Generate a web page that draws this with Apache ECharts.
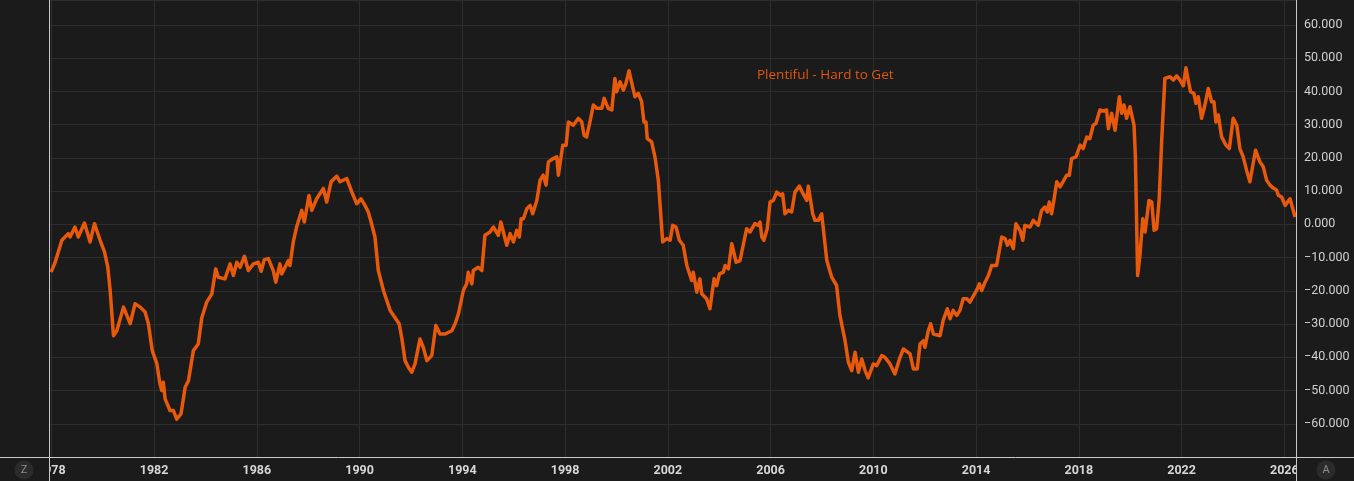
<!DOCTYPE html>
<html>
<head>
<meta charset="utf-8">
<title>Plentiful - Hard to Get</title>
<script src="https://cdn.jsdelivr.net/npm/echarts@6/dist/echarts.min.js"></script>
<style>
  html, body { margin: 0; padding: 0; background: #1b1b1b; }
  #chart { width: 1354px; height: 481px; }
</style>
</head>
<body>
<div id="chart"></div>
<script>
// Plentiful minus Hard to Get (decimal year, value)
const years = [
  1977.99, 1978.15, 1978.41, 1978.66, 1978.73, 1978.92, 1979.05, 1979.29, 1979.51, 1979.68,
  1979.90, 1980.07, 1980.20, 1980.29, 1980.42, 1980.55, 1980.81, 1981.07, 1981.26, 1981.46,
  1981.65, 1981.78, 1981.93, 1982.11, 1982.23, 1982.30, 1982.36, 1982.43, 1982.62, 1982.75,
  1982.88, 1983.05, 1983.21, 1983.34, 1983.53, 1983.72, 1983.86, 1984.05, 1984.25, 1984.40,
  1984.50, 1984.76, 1984.96, 1985.09, 1985.22, 1985.35, 1985.52, 1985.67, 1985.87, 1986.06,
  1986.17, 1986.29, 1986.45, 1986.64, 1986.74, 1986.90, 1986.97, 1987.23, 1987.29, 1987.42,
  1987.55, 1987.75, 1987.85, 1988.03, 1988.14, 1988.33, 1988.59, 1988.72, 1988.89, 1989.11,
  1989.24, 1989.50, 1989.70, 1989.89, 1990.06, 1990.21, 1990.34, 1990.45, 1990.60, 1990.73,
  1990.93, 1991.19, 1991.54, 1991.64, 1991.77, 1991.90, 1992.03, 1992.16, 1992.35, 1992.48,
  1992.62, 1992.81, 1992.97, 1993.13, 1993.33, 1993.59, 1993.72, 1993.85, 1994.04, 1994.17,
  1994.23, 1994.37, 1994.43, 1994.62, 1994.76, 1994.88, 1995.08, 1995.21, 1995.40, 1995.50,
  1995.73, 1995.86, 1995.99, 1996.12, 1996.22, 1996.29, 1996.38, 1996.51, 1996.64, 1996.74,
  1996.90, 1997.03, 1997.15, 1997.26, 1997.35, 1997.54, 1997.68, 1997.74, 1997.91, 1998.04,
  1998.13, 1998.32, 1998.52, 1998.65, 1998.74, 1998.84, 1998.97, 1999.10, 1999.23, 1999.43,
  1999.52, 1999.68, 1999.82, 1999.94, 2000.01, 2000.14, 2000.27, 2000.37, 2000.49, 2000.60,
  2000.72, 2000.85, 2000.98, 2001.07, 2001.15, 2001.20, 2001.37, 2001.50, 2001.63, 2001.80,
  2001.96, 2002.09, 2002.19, 2002.32, 2002.45, 2002.60, 2002.74, 2002.93, 2002.99, 2003.13,
  2003.25, 2003.32, 2003.51, 2003.64, 2003.80, 2003.90, 2004.01, 2004.16, 2004.23, 2004.36,
  2004.49, 2004.66, 2004.81, 2005.07, 2005.20, 2005.39, 2005.52, 2005.59, 2005.66, 2005.74,
  2005.87, 2005.98, 2006.11, 2006.24, 2006.39, 2006.47, 2006.56, 2006.69, 2006.82, 2006.95,
  2007.12, 2007.30, 2007.41, 2007.47, 2007.64, 2007.73, 2007.86, 2007.99, 2008.19, 2008.38,
  2008.57, 2008.70, 2008.90, 2009.03, 2009.16, 2009.29, 2009.42, 2009.55, 2009.68, 2009.80,
  2010.00, 2010.13, 2010.33, 2010.45, 2010.65, 2010.84, 2011.04, 2011.17, 2011.43, 2011.56,
  2011.71, 2011.82, 2011.95, 2012.01, 2012.14, 2012.23, 2012.34, 2012.60, 2012.72, 2012.88,
  2012.99, 2013.11, 2013.25, 2013.37, 2013.50, 2013.64, 2013.76, 2014.02, 2014.13, 2014.22,
  2014.35, 2014.48, 2014.61, 2014.80, 2015.00, 2015.13, 2015.22, 2015.32, 2015.45, 2015.55,
  2015.71, 2015.82, 2015.90, 2016.10, 2016.23, 2016.42, 2016.55, 2016.68, 2016.77, 2016.85,
  2016.94, 2017.03, 2017.14, 2017.27, 2017.42, 2017.53, 2017.63, 2017.72, 2017.89, 2018.05,
  2018.17, 2018.31, 2018.43, 2018.56, 2018.67, 2018.82, 2018.95, 2019.08, 2019.15, 2019.28,
  2019.41, 2019.58, 2019.67, 2019.76, 2019.86, 2019.99, 2020.15, 2020.20, 2020.25, 2020.29,
  2020.38, 2020.49, 2020.58, 2020.73, 2020.84, 2020.93, 2021.03, 2021.13, 2021.23, 2021.35,
  2021.55, 2021.68, 2021.81, 2021.94, 2022.07, 2022.17, 2022.26, 2022.35, 2022.48, 2022.56,
  2022.65, 2022.78, 2022.91, 2023.04, 2023.17, 2023.26, 2023.34, 2023.43, 2023.56, 2023.73,
  2023.86, 2024.01, 2024.15, 2024.27, 2024.40, 2024.53, 2024.66, 2024.88, 2025.05, 2025.18,
  2025.31, 2025.44, 2025.57, 2025.70, 2025.77, 2025.90, 2026.03, 2026.22, 2026.42
];
const values = [
  -14.4, -11.4, -4.8, -2.8, -3.8, -0.8, -3.8, 0.4, -5.3, 0.2,
  -4.8, -8.3, -12.9, -19.9, -33.5, -32.0, -24.9, -29.9, -23.9, -24.9,
  -26.4, -29.9, -38.0, -42.0, -48.0, -50.0, -47.5, -52.5, -56.0, -56.0,
  -58.6, -57.0, -49.0, -47.0, -38.0, -36.0, -28.0, -23.4, -20.9, -13.4,
  -15.9, -16.4, -11.9, -15.4, -11.4, -12.9, -9.6, -13.9, -11.9, -11.4,
  -14.1, -10.6, -10.3, -13.9, -17.4, -11.9, -14.9, -10.9, -12.4, -5.3,
  -0.8, 4.2, 0.7, 8.7, 4.2, 7.7, 10.8, 6.7, 12.8, 14.5,
  12.8, 13.8, 9.7, 6.2, 7.7, 5.7, 3.7, 0.7, -3.8, -13.9,
  -19.9, -25.9, -29.9, -34.0, -41.0, -43.0, -44.5, -42.0, -34.5, -37.0,
  -41.0, -39.5, -30.4, -33.0, -33.0, -32.0, -29.9, -26.9, -19.9, -17.9,
  -14.4, -17.9, -13.9, -12.9, -13.9, -3.3, -2.3, -0.8, -3.3, 0.7,
  -6.3, -2.8, -5.3, -1.8, -3.8, 1.7, 1.7, 4.7, 5.7, 3.2,
  7.2, 13.3, 14.8, 11.8, 18.8, 19.8, 20.3, 14.8, 23.8, 23.8,
  30.8, 29.8, 31.9, 30.8, 26.8, 26.3, 30.8, 35.9, 34.9, 34.9,
  37.9, 34.9, 34.4, 43.9, 39.9, 42.9, 40.4, 42.4, 46.2, 42.4,
  38.4, 39.4, 36.9, 30.8, 30.8, 25.8, 24.8, 20.3, 13.3, -5.3,
  -4.3, -4.8, -0.3, -0.8, -4.8, -6.3, -12.4, -16.9, -14.4, -20.4,
  -16.4, -20.9, -22.4, -25.4, -16.4, -18.4, -14.9, -14.4, -12.4, -13.4,
  -5.8, -11.4, -10.9, -1.3, -2.3, 0.2, -0.3, 0.7, -3.8, -4.8,
  -1.3, 6.7, 7.2, 9.7, 8.7, 9.2, 3.2, 4.2, 3.7, 9.7,
  11.5, 8.7, 7.2, 11.5, 3.2, 1.2, 1.2, 3.2, -10.9, -15.9,
  -18.4, -27.4, -35.0, -41.5, -44.0, -38.5, -44.5, -40.5, -44.0, -46.2,
  -42.0, -42.5, -39.5, -40.0, -42.0, -45.0, -40.0, -37.5, -39.0, -43.5,
  -43.5, -36.0, -35.0, -37.0, -32.0, -29.9, -33.0, -33.5, -28.9, -25.4,
  -28.4, -25.9, -27.4, -25.9, -22.4, -22.4, -23.4, -19.9, -17.9, -19.9,
  -17.4, -15.4, -12.4, -12.4, -3.8, -4.3, -6.3, -4.8, -7.3, 0.2,
  -1.8, -4.8, -0.3, -0.8, 1.2, -0.3, 4.2, 5.2, 3.7, 6.7,
  3.2, 7.2, 12.8, 11.3, 13.3, 14.8, 14.8, 19.8, 20.3, 23.8,
  22.8, 26.3, 25.8, 29.8, 30.4, 34.4, 34.1, 34.4, 28.8, 33.4,
  28.3, 38.4, 33.4, 35.9, 31.9, 35.4, 29.8, 20.8, 0.7, -15.4,
  -9.3, 1.7, -2.3, 7.2, 6.7, -1.8, -1.3, 7.7, 25.8, 43.9,
  44.4, 43.4, 44.7, 43.4, 41.7, 47.1, 43.4, 39.9, 39.4, 36.4,
  38.4, 31.9, 35.9, 40.9, 36.9, 36.9, 30.8, 32.9, 26.3, 23.8,
  22.8, 31.9, 29.8, 22.8, 20.3, 16.3, 12.8, 22.3, 18.8, 17.3,
  13.3, 11.8, 10.9, 10.3, 8.7, 8.2, 5.7, 7.7, 2.2
];
const yearTicks = [1978, 1982, 1986, 1990, 1994, 1998, 2002, 2006, 2010, 2014, 2018, 2022, 2026];
const seriesName = 'Plentiful - Hard to Get';

const BG = '#1b1b1b';
const FRAME = '#c9c9c9';
const GRID = '#2e2e2e';
const ORANGE = '#e8590c';

const chart = echarts.init(document.getElementById('chart'), null, { renderer: 'canvas' });
const points = years.map((y, i) => [y, values[i]]);

chart.setOption({
    backgroundColor: BG,
    animation: false,
    title: {
        text: seriesName, left: 752, top: 63,
        textStyle: { color: '#e0560f', fontSize: 13.5, fontWeight: 'normal', fontFamily: '"Open Sans", sans-serif' }
    },
    grid: { left: 49, right: 58, top: 0, bottom: 24, containLabel: false },
    xAxis: {
        type: 'value', min: 1977.91, max: 2026.455,
        axisLine: { show: false },
        axisTick: { show: false, customValues: yearTicks },
        splitLine: { show: true, lineStyle: { color: GRID, width: 1 } },
        axisLabel: {
            customValues: yearTicks, color: '#d6d6d6', fontSize: 12.5, fontWeight: 'bold',
            fontFamily: 'Roboto, sans-serif', margin: 7,
            formatter: v => String(Math.round(v))
        }
    },
    yAxis: {
        type: 'value', position: 'right', min: -70, max: 67.5, interval: 10,
        axisLine: { show: false },
        axisTick: { show: false },
        splitLine: { show: true, lineStyle: { color: GRID, width: 1 } },
        axisLabel: {
            color: '#d0d0d0', fontSize: 12.5, margin: 8, fontFamily: 'Roboto, sans-serif',
            showMinLabel: false, showMaxLabel: false,
            formatter: v => (v < -60 || v > 60) ? '' : v.toFixed(3).replace('-', '\u2212')
        }
    },
    series: [{
        name: seriesName, type: 'line', data: points,
        showSymbol: false, smooth: false,
        lineStyle: { color: ORANGE, width: 3.5, join: 'round' },
        z: 5
    }],
    graphic: [
        // panels that hide the cut-off ends of the date scale
        { type: 'rect', z: 100, shape: { x: 0, y: 458, width: 49, height: 23 }, style: { fill: BG } },
        { type: 'rect', z: 100, shape: { x: 1297, y: 458, width: 57, height: 23 }, style: { fill: BG } },
        // frame lines
        { type: 'line', z: 101, shape: { x1: 0, y1: 457.5, x2: 1354, y2: 457.5 }, style: { stroke: FRAME, lineWidth: 1 } },
        { type: 'line', z: 101, shape: { x1: 49.5, y1: 0, x2: 49.5, y2: 481 }, style: { stroke: FRAME, lineWidth: 1 } },
        { type: 'line', z: 101, shape: { x1: 1296.5, y1: 0, x2: 1296.5, y2: 481 }, style: { stroke: FRAME, lineWidth: 1 } },
        // corner buttons
        { type: 'circle', z: 102, shape: { cx: 24, cy: 470, r: 9.5 }, style: { fill: '#2b2b2b' } },
        { type: 'text', z: 103, x: 24, y: 470, style: { text: 'Z', fill: '#8c8c8c', fontSize: 11, align: 'center', verticalAlign: 'middle', fontFamily: 'Roboto, sans-serif' } },
        { type: 'circle', z: 102, shape: { cx: 1326, cy: 470, r: 9.5 }, style: { fill: '#2b2b2b' } },
        { type: 'text', z: 103, x: 1326, y: 470, style: { text: 'A', fill: '#8c8c8c', fontSize: 11, align: 'center', verticalAlign: 'middle', fontFamily: 'Roboto, sans-serif' } }
    ]
});

window.addEventListener('resize', () => chart.resize());
</script>
</body>
</html>
